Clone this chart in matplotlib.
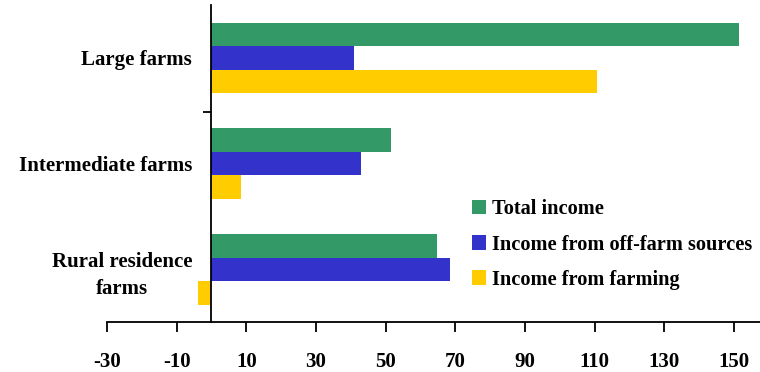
import matplotlib
matplotlib.use("Agg")
import matplotlib.pyplot as plt
import numpy as np

# Average farm household income by farm type (thousand dollars)
categories = ["Large farms", "Intermediate farms", "Rural residence\nfarms"]
series_names = ["Total income", "Income from off-farm sources", "Income from farming"]
total_income = [151.6, 51.6, 64.8]
off_farm_income = [40.8, 43.0, 68.6]
farming_income = [110.8, 8.6, -3.8]
x_ticks = [-30, -10, 10, 30, 50, 70, 90, 110, 130, 150]
colors = ["#339966", "#3333CC", "#FFCC00"]

plt.rcParams["font.family"] = ["Liberation Serif", "DejaVu Serif"]
plt.rcParams["font.weight"] = "bold"

fig = plt.figure(figsize=(7.6, 3.72), dpi=100)
ax = fig.add_axes([0.1408, 0.1331, 0.8592, 0.8535])

y = np.arange(len(categories))
h = 0.222
series = [total_income, off_farm_income, farming_income]
for i, (vals, name, c) in enumerate(zip(series, series_names, colors)):
    ax.barh(y + (i - 1) * h, vals, height=h, color=c, label=name, linewidth=0)

ax.set_xlim(-30, 157.5)
ax.set_ylim(2.5, -0.5)

# spines: value axis at the bottom, category axis through zero
for s in ("top", "right"):
    ax.spines[s].set_visible(False)
ax.spines["left"].set_position(("data", 0))
ax.spines["left"].set_linewidth(1.3)
ax.spines["bottom"].set_linewidth(1.3)

ax.set_xticks(x_ticks)
ax.set_xticklabels([str(t) for t in x_ticks])
ax.tick_params(axis="x", direction="out", length=7, width=1.3, pad=14, labelsize=15)

# single divider tick between the upper groups; labels sit on minor ticks
ax.set_yticks([0.51])
ax.set_yticklabels([""])
ax.set_yticks(y, minor=True)
ax.set_yticklabels(categories, minor=True)
ax.tick_params(axis="y", which="major", direction="out", length=6, width=1.3)
ax.tick_params(axis="y", which="minor", length=0, pad=14, labelsize=15)
for lbl in ax.get_yticklabels(minor=True):
    lbl.set_multialignment("center")
    lbl.set_linespacing(1.45)

leg = ax.legend(loc="center left", bbox_to_anchor=(472 / 760, 1 - 244.5 / 372),
                bbox_transform=fig.transFigure, frameon=False, fontsize=14.7,
                handlelength=0.7, handleheight=0.7, handletextpad=0.3,
                labelspacing=0.74, borderpad=0, borderaxespad=0)

fig.savefig("out.png", dpi=100)
